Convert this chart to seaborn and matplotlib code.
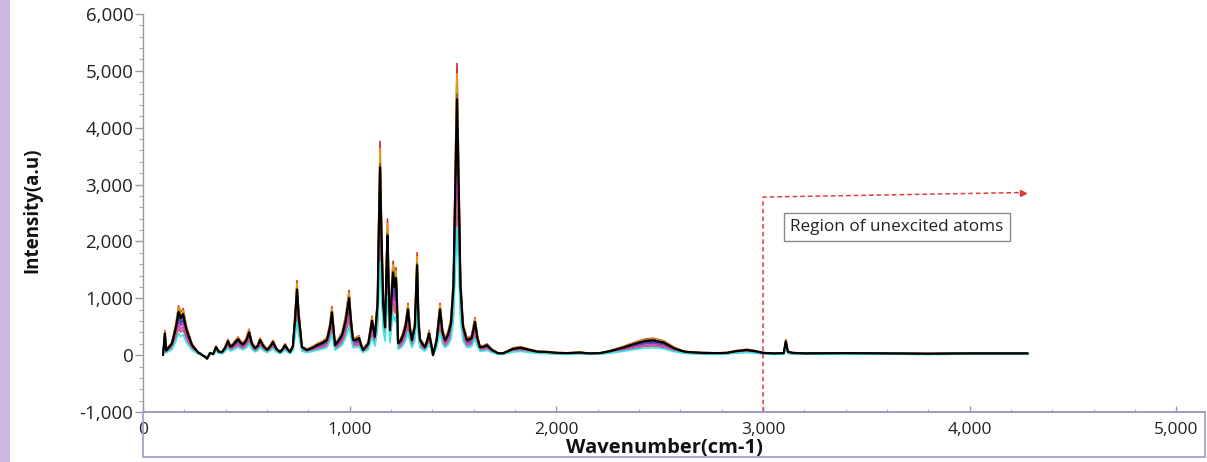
import matplotlib
matplotlib.use("Agg")
import numpy as np
import pandas as pd
import seaborn as sns
import matplotlib.pyplot as plt
from matplotlib.patches import Rectangle
from matplotlib.ticker import FuncFormatter, MultipleLocator

# ---------------- data ----------------
wavenumber = [97, 106, 112, 121, 140, 160, 172, 183, 194, 210, 237, 266, 300, 310, 324, 340,
              353, 367, 382, 396, 411, 422, 435, 447, 460, 472, 484, 500, 513, 527, 542, 555,
              566, 583, 600, 615, 629, 645, 663, 675, 687, 700, 711, 725, 737, 745, 753, 769,
              793, 820, 842, 865, 890, 905, 914, 922, 929, 945, 963, 980, 997, 1006, 1016, 1030,
              1045, 1055, 1064, 1090, 1108, 1122, 1135, 1141, 1147, 1153, 1162, 1171, 1178, 1183,
              1188, 1195, 1205, 1210, 1217, 1224, 1229, 1234, 1246, 1258, 1270, 1282, 1292, 1301,
              1315, 1326, 1333, 1340, 1352, 1364, 1375, 1384, 1394, 1403, 1420, 1437, 1449, 1461,
              1475, 1490, 1502, 1511, 1519, 1527, 1536, 1548, 1567, 1590, 1606, 1618, 1630, 1650,
              1664, 1688, 1717, 1740, 1760, 1790, 1825, 1850, 1872, 1910, 1955, 2000, 2050, 2114,
              2160, 2211, 2260, 2320, 2380, 2430, 2470, 2520, 2570, 2610, 2632, 2700, 2780, 2825,
              2870, 2922, 2960, 3000, 3050, 3100, 3110, 3120, 3140, 3200, 3400, 3600, 3800, 4000,
              4280]
intensity_black = [0, 380, 80, 120, 200, 500, 760, 650, 720, 450, 175, 50, -30, -60, 35, 20,
                   140, 60, 50, 120, 245, 150, 175, 230, 280, 220, 190, 260, 400, 200, 120, 160,
                   265, 160, 90, 150, 230, 110, 55, 100, 175, 100, 55, 150, 700, 1150, 700, 140,
                   90, 130, 175, 210, 265, 500, 750, 450, 175, 250, 350, 600, 1000, 600, 265, 270,
                   300, 180, 90, 200, 600, 320, 900, 2200, 3300, 2200, 900, 490, 1500, 2100,
                   1300, 440, 1200, 1450, 1200, 1350, 900, 210, 250, 350, 500, 800, 450, 265,
                   500, 1580, 600, 265, 200, 140, 250, 380, 200, 0, 250, 800, 400, 265,
                   350, 560, 1200, 3000, 4500, 3000, 1200, 500, 265, 300, 580, 300, 140, 150,
                   175, 90, 35, 30, 60, 110, 130, 110, 90, 60, 55, 40, 35, 45,
                   30, 35, 70, 130, 200, 250, 260, 220, 120, 70, 55, 40, 35, 40,
                   70, 90, 70, 40, 30, 35, 240, 60, 40, 30, 35, 30, 25, 30,
                   30]

series_names = ["S1", "S2", "S3", "S4", "S5", "S6", "S7", "S8", "S9", "S10"]
series_scale = [1.14, 1.10, 1.06, 1.02, 0.96, 0.88, 0.80, 0.70, 0.62, 0.50]
series_colors = ["#d62f2f", "#f39a1e", "#b8b400", "#8c5a3c", "#2e8b57",
                 "#2a3fbf", "#7b3fa0", "#e040c0", "#c06080", "#3fe3e3"]

region_x = [3000, 3000, 4257]
region_y = [-1000, 2780, 2860]
region_label = "Region of unexcited atoms"
region_label_pos = (3648, 2250)

# ---------------- build long table ----------------
rows = []
for name, s in zip(series_names, series_scale):
    for w, v in zip(wavenumber, intensity_black):
        rows.append((name, w, v * s))
df = pd.DataFrame(rows, columns=["series", "wavenumber", "intensity"])
df_black = pd.DataFrame({"wavenumber": wavenumber, "intensity": intensity_black})

# ---------------- figure ----------------
sns.set_theme(style="white")
plt.rcParams["font.family"] = ["Open Sans", "DejaVu Sans"]

W, H = 1207, 462
fig = plt.figure(figsize=(W / 100, H / 100), dpi=100)
ax_left, ax_right, ax_top, ax_bottom = 143, 1205, 14, 412
ax = fig.add_axes([ax_left / W, 1 - ax_bottom / H, (ax_right - ax_left) / W, (ax_bottom - ax_top) / H])

sns.lineplot(data=df, x="wavenumber", y="intensity", hue="series", hue_order=series_names,
             palette=dict(zip(series_names, series_colors)), estimator=None, sort=False,
             lw=1.2, legend=False, ax=ax)
sns.lineplot(data=df_black, x="wavenumber", y="intensity", color="black", estimator=None,
             sort=False, lw=1.6, ax=ax)

ax.set_xlim(0, 5138)
ax.set_ylim(-1000, 6000)
ax.xaxis.set_major_locator(MultipleLocator(1000))
ax.xaxis.set_minor_locator(MultipleLocator(200))
ax.yaxis.set_major_locator(MultipleLocator(1000))
ax.yaxis.set_minor_locator(MultipleLocator(200))
fmt = FuncFormatter(lambda v, p: f"{v:,.0f}".replace("\u2212", "-"))
ax.xaxis.set_major_formatter(fmt)
ax.yaxis.set_major_formatter(fmt)

for sp in ["top", "right"]:
    ax.spines[sp].set_visible(False)
ax.spines["left"].set_color("#9a9a9a")
ax.spines["left"].set_linewidth(1.0)
ax.spines["bottom"].set_color("#9a9acb")
ax.spines["bottom"].set_linewidth(1.2)

ax.tick_params(axis="y", which="major", direction="out", length=6, width=1, color="#9a9a9a",
               labelsize=13.5, pad=1, labelcolor="#222222")
ax.tick_params(axis="y", which="minor", direction="out", length=3, width=0.8, color="#aaaaaa")
ax.tick_params(axis="x", which="major", direction="in", length=4, width=1, color="#9a9a9a",
               labelsize=12.5, pad=7, labelcolor="#222222")
ax.tick_params(axis="x", which="minor", direction="in", length=2.5, width=0.8, color="#aaaaaa")
ax.yaxis.set_ticks_position("left")
ax.xaxis.set_ticks_position("bottom")

ax.set_xlabel("Wavenumber(cm-1)", fontweight="bold", fontsize=14.5, color="#111111")
ax.xaxis.set_label_coords((664 - ax_left) / (ax_right - ax_left), -0.066)
ax.set_ylabel("Intensity(a.u)", fontweight="bold", fontsize=13.5, color="#111111")
ax.yaxis.set_label_coords((32 - ax_left) / (ax_right - ax_left), (ax_bottom - 210) / (ax_bottom - ax_top))
ax.yaxis.label.set_verticalalignment("center")

# region annotation
red = "#e23b3b"
ax.plot(region_x, region_y, ls=(0, (3, 2)), color=red, lw=1.1)
ax.plot([region_x[-1]], [region_y[-1]], marker=">", color=red, ms=4)
ax.text(region_label_pos[0], region_label_pos[1], region_label, ha="center", va="center",
        fontsize=12.3, color="#222222",
        bbox=dict(boxstyle="square,pad=0.35", fc="white", ec="#8a8a8a", lw=1))

# x-axis frame box
fig.patches.append(Rectangle((ax_left / W, 1 - 457 / H), (ax_right - ax_left) / W, (457 - ax_bottom) / H,
                             transform=fig.transFigure, fill=False, ec="#9a9acb", lw=1.2))
# lavender strip on the left edge
fig.patches.append(Rectangle((0, 0), 10 / W, 1, transform=fig.transFigure,
                             fc="#cdb8e3", ec="none", zorder=-1))

fig.savefig("out.png", dpi=100)
